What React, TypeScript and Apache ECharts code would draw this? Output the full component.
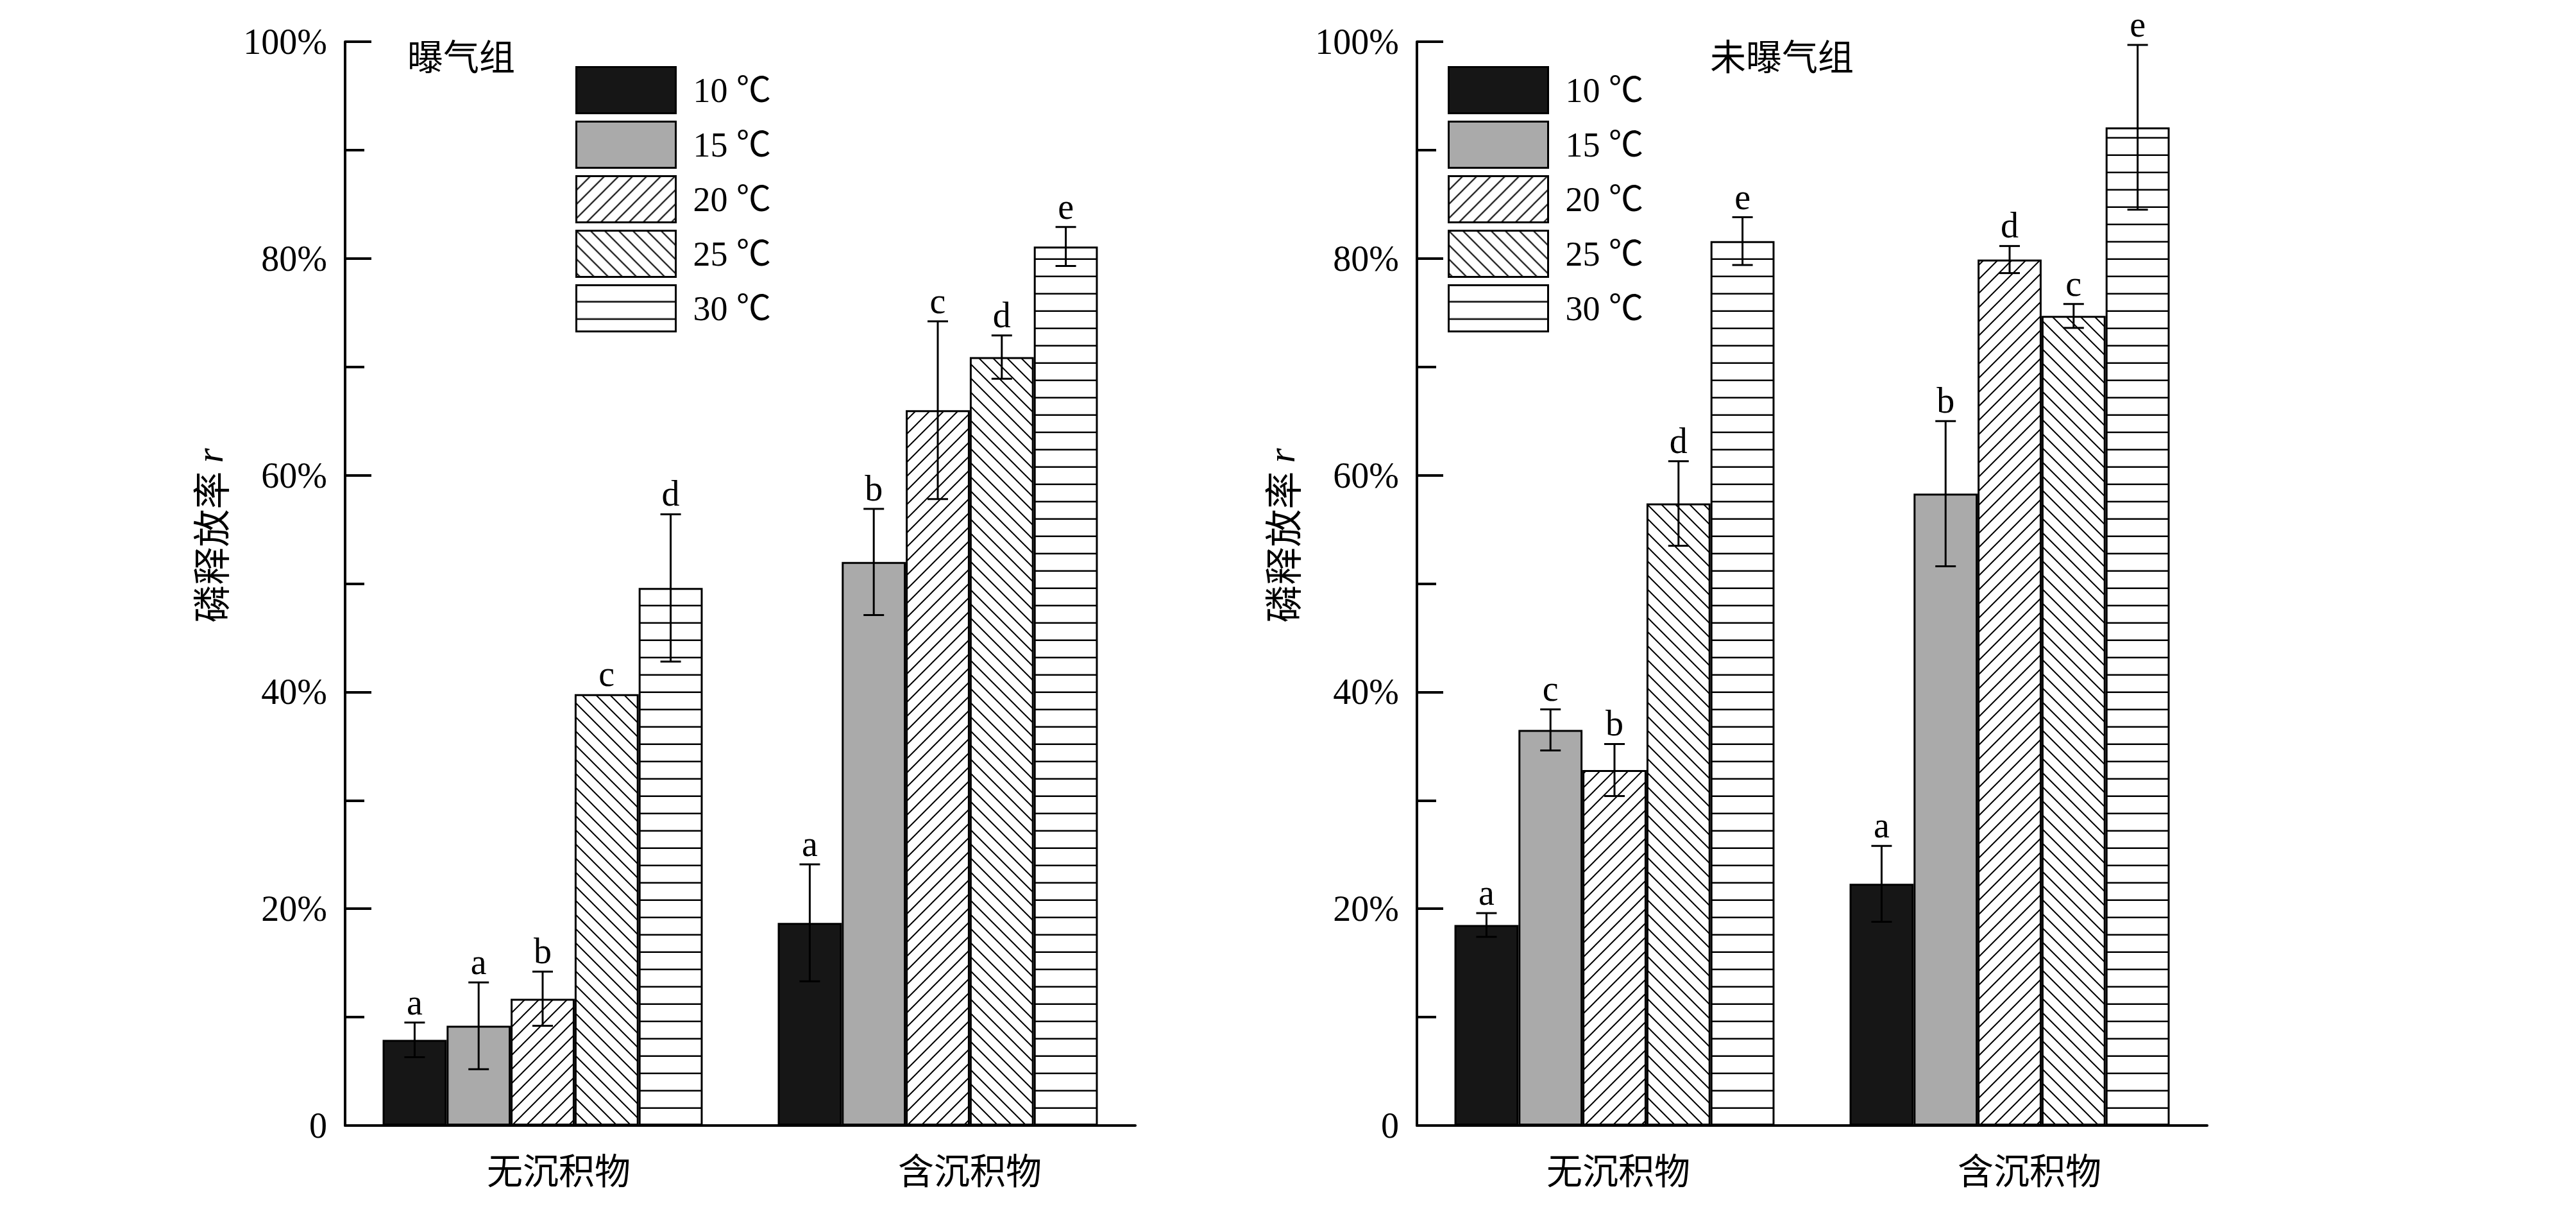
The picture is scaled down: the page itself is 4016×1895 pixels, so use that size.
import React, { useEffect, useRef } from "react";
import * as echarts from "echarts";

// ---------- data ----------
const categories = ["无沉积物", "含沉积物"];
const temps = ["10 ℃", "15 ℃", "20 ℃", "25 ℃", "30 ℃"];
const panelTitles = ["曝气组", "未曝气组"];
const yTickValues = [0, 20, 40, 60, 80, 100];

// 曝气组: per temperature [无沉积物, 含沉积物] (%)
const aeratedValues = [
  [7.9, 18.7],
  [9.2, 52.0],
  [11.7, 66.0],
  [39.8, 70.9],
  [49.6, 81.1],
];
const aeratedErrors = [
  [1.6, 5.4],
  [4.0, 4.9],
  [2.5, 8.2],
  [0, 2.0],
  [6.8, 1.8],
];
const aeratedLetters = [
  ["a", "a"],
  ["a", "b"],
  ["b", "c"],
  ["c", "d"],
  ["d", "e"],
];

// 未曝气组
const unaeratedValues = [
  [18.5, 22.3],
  [36.5, 58.3],
  [32.8, 79.9],
  [57.4, 74.7],
  [81.6, 92.1],
];
const unaeratedErrors = [
  [1.1, 3.5],
  [1.9, 6.7],
  [2.4, 1.25],
  [3.9, 1.1],
  [2.2, 7.6],
];
const unaeratedLetters = [
  ["a", "a"],
  ["c", "b"],
  ["b", "d"],
  ["d", "c"],
  ["e", "e"],
];

const panels = [
  { values: aeratedValues, errors: aeratedErrors, letters: aeratedLetters },
  { values: unaeratedValues, errors: unaeratedErrors, letters: unaeratedLetters },
];

// ---------- styling helpers ----------
const SERIF = "'Liberation Serif', 'Times New Roman', serif";
const CJK = "'Noto Sans CJK SC', sans-serif";
const CAT_GAP = 0.19;

function svgPattern(w: number, h: number, body: string) {
  const svg =
    `<svg xmlns="http://www.w3.org/2000/svg" width="${w}" height="${h}">` +
    `<rect width="${w}" height="${h}" fill="#ffffff"/>${body}</svg>`;
  return {
    image: "data:image/svg+xml;charset=utf-8," + encodeURIComponent(svg),
    repeat: "repeat",
    imageWidth: w,
    imageHeight: h,
  };
}

const S = 22;
const fwdHatch = svgPattern(
  S,
  S,
  `<path d="M0,${S} L${S},0 M${-S / 4},${S / 4} L${S / 4},${-S / 4} M${(3 * S) / 4},${(5 * S) / 4} L${(5 * S) / 4},${(3 * S) / 4}" stroke="#000" stroke-width="2" fill="none"/>`
);
const backHatch = svgPattern(
  S,
  S,
  `<path d="M0,0 L${S},${S} M${(3 * S) / 4},${-S / 4} L${(5 * S) / 4},${S / 4} M${-S / 4},${(3 * S) / 4} L${S / 4},${(5 * S) / 4}" stroke="#000" stroke-width="2" fill="none"/>`
);
const HZ = 27;
const horizHatch = svgPattern(
  10,
  HZ,
  `<rect x="0" y="${HZ - 2.5}" width="10" height="2.5" fill="#000"/>`
);

const fills: any[] = ["#161616", "#aaaaaa", fwdHatch, backHatch, horizHatch];

const gridLefts = [538, 2209];
const GRID_TOP = 65;
const GRID_W = 1232;
const GRID_H = 1689;
const labelOffsets = [
  [25, 50],
  [6, 31],
];
const legendLefts = [897, 2257];
const titleLefts = [635, 2666];

export default function App() {
  const ref = useRef<HTMLDivElement>(null);

  useEffect(() => {
    document.body.style.margin = "0";
    const chart = echarts.init(ref.current!, undefined, { renderer: "svg" });

    const grids = gridLefts.map((l) => ({
      left: l,
      top: GRID_TOP,
      width: GRID_W,
      height: GRID_H,
      containLabel: false,
      outerBoundsMode: "none",
    }));

    const xAxes = gridLefts.map((_, g) => {
      const rich: any = {};
      categories.forEach((_, i) => {
        rich["p" + i] = {
          fontFamily: CJK,
          fontSize: 56,
          color: "#000",
          padding: [0, 0, 0, 2 * labelOffsets[g][i]],
        };
      });
      return {
        type: "category",
        gridIndex: g,
        data: categories,
        axisLine: { show: true, lineStyle: { color: "#000", width: 4 } },
        axisTick: { show: false },
        splitLine: { show: false },
        axisLabel: {
          margin: 38,
          formatter: (v: string, i: number) => `{p${i}|${v}}`,
          rich,
        },
      };
    });

    const yAxes = gridLefts.map((_, g) => ({
      type: "value",
      gridIndex: g,
      min: yTickValues[0],
      max: yTickValues[yTickValues.length - 1],
      interval: 20,
      name: "{a|磷释放率 }{b|r}",
      nameLocation: "middle",
      nameGap: 182,
      nameRotate: 90,
      nameTextStyle: {
        padding: [0, 0, 0, 150],
        rich: {
          a: { fontFamily: CJK, fontSize: 59, color: "#000" },
          b: { fontFamily: SERIF, fontSize: 59, fontStyle: "italic", color: "#000" },
        },
      },
      axisLine: { show: true, lineStyle: { color: "#000", width: 4 } },
      axisTick: { show: true, inside: true, length: 41, lineStyle: { color: "#000", width: 4 } },
      minorTick: { show: true, splitNumber: 2, length: 30, lineStyle: { color: "#000", width: 4 } },
      splitLine: { show: false },
      minorSplitLine: { show: false },
      axisLabel: {
        margin: 28,
        fontFamily: SERIF,
        fontSize: 56,
        color: "#000",
        formatter: (v: number) => (v === 0 ? "0" : `${v}%`),
      },
    }));

    const series: any[] = [];
    panels.forEach((p, g) => {
      temps.forEach((t, k) => {
        series.push({
          type: "bar",
          name: t,
          xAxisIndex: g,
          yAxisIndex: g,
          data: p.values[k],
          barGap: "0%",
          barCategoryGap: `${CAT_GAP * 100}%`,
          itemStyle: { color: fills[k], borderColor: "#000", borderWidth: 3 },
          emphasis: { disabled: true },
          z: 2,
        });
      });
      const errData: number[][] = [];
      const letters: string[] = [];
      temps.forEach((_, k) => {
        categories.forEach((_, c) => {
          errData.push([c, p.values[k][c], p.errors[k][c], k]);
          letters.push(p.letters[k][c]);
        });
      });
      series.push({
        type: "custom",
        xAxisIndex: g,
        yAxisIndex: g,
        z: 5,
        encode: { x: 0, y: 1 },
        data: errData,
        renderItem: (params: any, api: any) => {
          const c = api.value(0);
          const v = api.value(1);
          const e = api.value(2);
          const k = api.value(3);
          const band = api.size([1, 0])[0];
          const bw = (band * (1 - CAT_GAP)) / temps.length;
          const base = api.coord([c, v]);
          const x = base[0] + (k - (temps.length - 1) / 2) * bw;
          const yTop = api.coord([c, v + e])[1];
          const yBot = api.coord([c, v - e])[1];
          const cap = 16;
          const ls = { stroke: "#000", lineWidth: 3 };
          const children: any[] = [];
          if (e > 0) {
            children.push(
              { type: "line", shape: { x1: x, y1: yTop, x2: x, y2: yBot }, style: ls },
              { type: "line", shape: { x1: x - cap, y1: yTop, x2: x + cap, y2: yTop }, style: ls },
              { type: "line", shape: { x1: x - cap, y1: yBot, x2: x + cap, y2: yBot }, style: ls }
            );
          }
          children.push({
            type: "text",
            style: {
              text: letters[params.dataIndex],
              x,
              y: yTop - 4,
              align: "center",
              verticalAlign: "bottom",
              fontFamily: SERIF,
              fontSize: 56,
              fill: "#000",
            },
          });
          return { type: "group", children };
        },
      });
    });

    const legends = legendLefts.map((l) => ({
      left: l,
      top: 103,
      orient: "vertical",
      padding: 0,
      itemWidth: 155,
      itemHeight: 72,
      itemGap: 10,
      icon: "rect",
      selectedMode: false,
      data: temps,
      itemStyle: { borderColor: "#000", borderWidth: 3 },
      textStyle: { fontFamily: `${SERIF}, ${CJK}`, fontSize: 54, color: "#000", padding: [0, 0, 0, 22] },
    }));

    const titles = panelTitles.map((t, i) => ({
      text: t,
      left: titleLefts[i],
      top: 56,
      padding: 0,
      textStyle: { fontFamily: CJK, fontSize: 56, fontWeight: "normal", color: "#000" },
    }));

    chart.setOption({
      animation: false,
      backgroundColor: "#ffffff",
      title: titles,
      legend: legends,
      grid: grids,
      xAxis: xAxes,
      yAxis: yAxes,
      series,
    });

    return () => chart.dispose();
  }, []);

  return <div ref={ref} style={{ width: 4016, height: 1895 }} />;
}
